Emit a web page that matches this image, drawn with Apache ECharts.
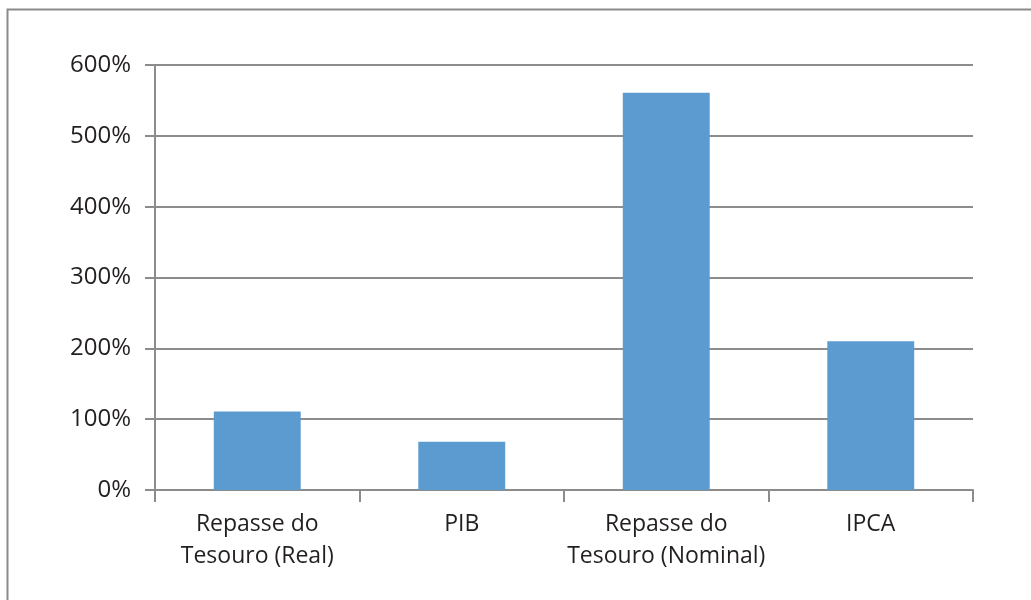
<!DOCTYPE html>
<html>
<head>
<meta charset="utf-8">
<title>Repasse do Tesouro x PIB x IPCA</title>
<script src="https://cdn.jsdelivr.net/npm/echarts@6/dist/echarts.min.js"></script>
<style>
  html, body { margin: 0; padding: 0; background: #ffffff; }
  #chart { width: 1031px; height: 600px; }
</style>
</head>
<body>
<div id="chart"></div>
<script>
// Variação acumulada (%)
const categories = [
  'Repasse do\nTesouro (Real)',
  'PIB',
  'Repasse do\nTesouro (Nominal)',
  'IPCA'
];
const values = [111, 68, 561, 210];

const yMin = 0;
const yMax = 600;
const yStep = 100;

const chart = echarts.init(document.getElementById('chart'), null, { renderer: 'canvas' });

const font = '"Open Sans", "Liberation Sans", sans-serif';
const gridColor = '#8c8c8c';
const textColor = '#231f20';

chart.setOption({
  animation: false,
  backgroundColor: '#ffffff',
  graphic: [{
    type: 'rect',
    shape: { x: 7.5, y: 9.5, width: 1200, height: 800 },
    style: { fill: 'none', stroke: '#8a8a8a', lineWidth: 2 },
    silent: true
  }],
  grid: { left: 155, right: 58, top: 65, bottom: 110, containLabel: false },
  xAxis: {
    type: 'category',
    data: categories,
    boundaryGap: true,
    axisLine: { show: true, lineStyle: { color: gridColor, width: 2 } },
    axisTick: { show: true, length: 12, alignWithLabel: false, lineStyle: { color: gridColor, width: 2 } },
    axisLabel: {
      interval: 0,
      margin: 18,
      color: textColor,
      fontFamily: font,
      fontSize: 23,
      lineHeight: 32,
      align: 'center'
    },
    splitLine: { show: false }
  },
  yAxis: {
    type: 'value',
    min: yMin,
    max: yMax,
    interval: yStep,
    axisLine: { show: true, lineStyle: { color: gridColor, width: 2 } },
    axisTick: { show: true, inside: false, length: 10, lineStyle: { color: gridColor, width: 2 } },
    axisLabel: {
      formatter: '{value}%',
      margin: 24,
      color: textColor,
      fontFamily: font,
      fontSize: 24
    },
    splitLine: { show: true, lineStyle: { color: gridColor, width: 2 } }
  },
  series: [{
    type: 'bar',
    data: values,
    barWidth: '42.5%',
    itemStyle: { color: '#5b9bd0' },
    label: { show: false }
  }]
});
</script>
</body>
</html>
